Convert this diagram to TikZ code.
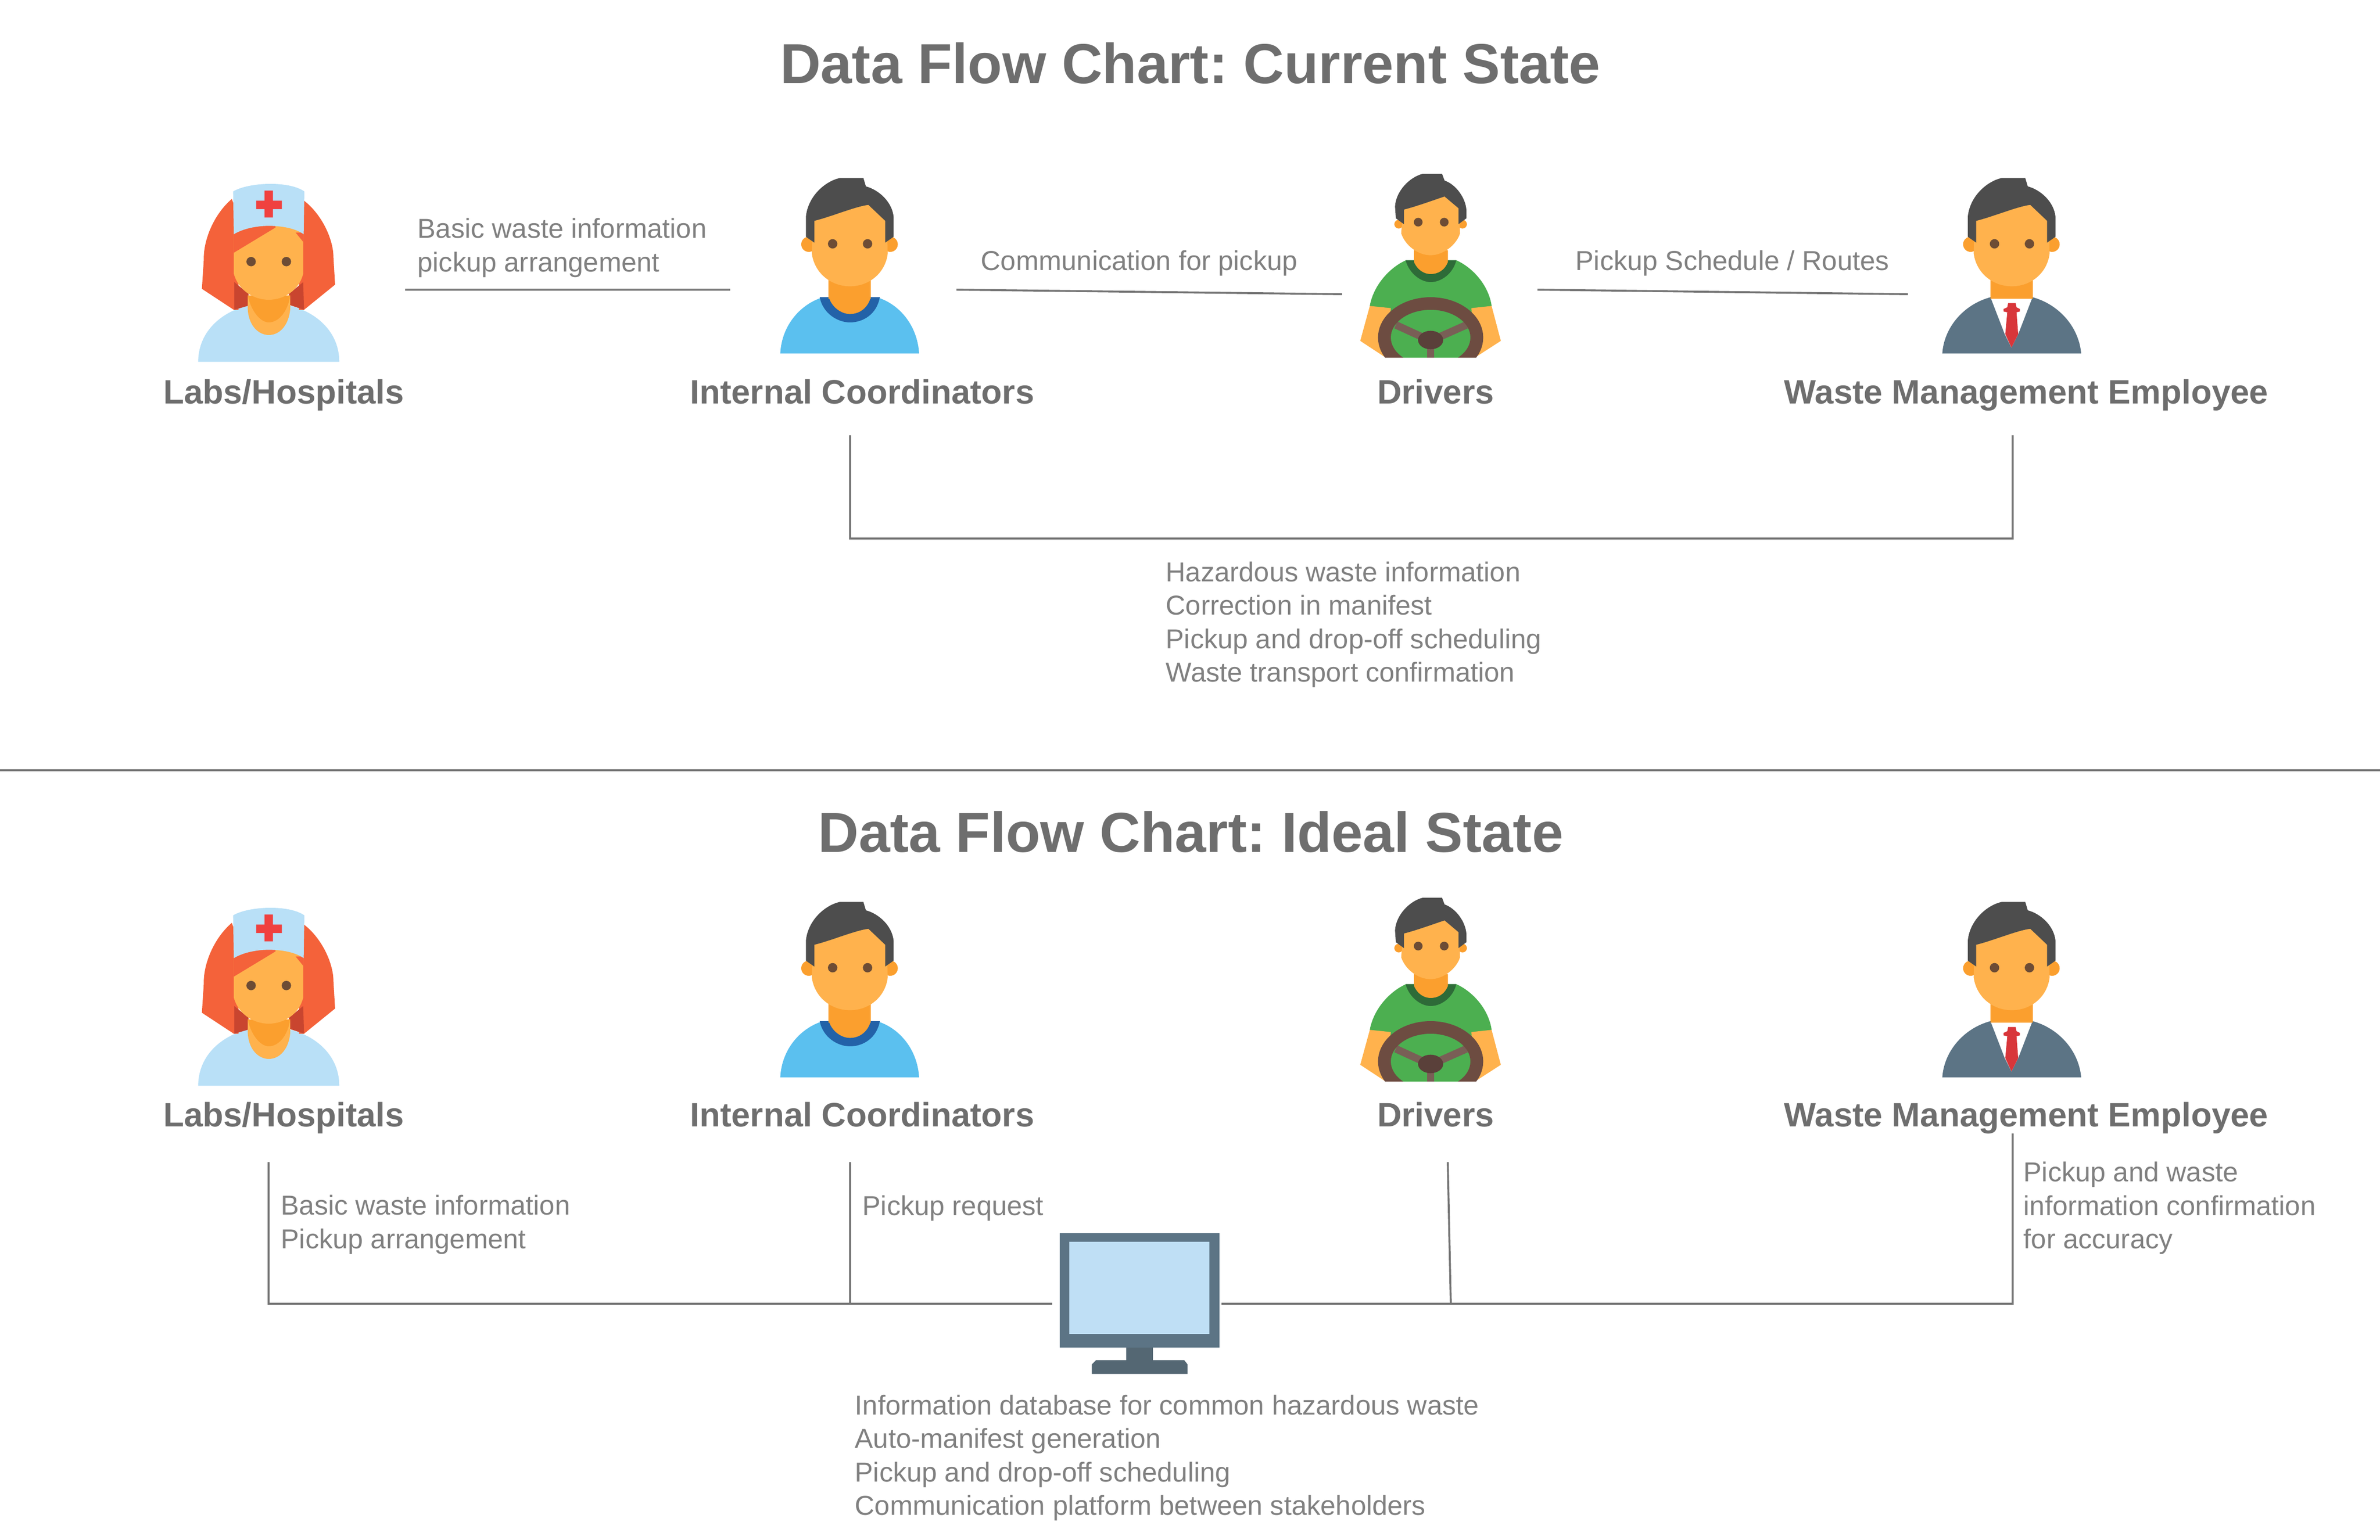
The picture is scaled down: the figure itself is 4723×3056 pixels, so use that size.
\documentclass[tikz,border=0pt]{standalone}
\usepackage{fontspec}
\setmainfont{Liberation Sans}
\frenchspacing
\definecolor{inkgray}{HTML}{6E6E6E}
\definecolor{softgray}{HTML}{808080}
\definecolor{linegray}{HTML}{757575}
\definecolor{skin}{HTML}{FFB24D}
\definecolor{skindark}{HTML}{FB9F2E}
\definecolor{eyebrown}{HTML}{6D4C35}
\definecolor{hairgray}{HTML}{4D4D4D}
\definecolor{hairred}{HTML}{F4623A}
\definecolor{hairdeep}{HTML}{C9452F}
\definecolor{paleblue}{HTML}{B9E0F7}
\definecolor{crossred}{HTML}{F0413F}
\definecolor{shirtblue}{HTML}{5BC0EF}
\definecolor{collarblue}{HTML}{2362A8}
\definecolor{shirtgreen}{HTML}{4CAF50}
\definecolor{collargreen}{HTML}{2E6B38}
\definecolor{wheelbrown}{HTML}{6D4C41}
\definecolor{spokebrown}{HTML}{795F56}
\definecolor{hubbrown}{HTML}{5A403A}
\definecolor{suitgray}{HTML}{5C7485}
\definecolor{tiered}{HTML}{D8363A}
\definecolor{standgray}{HTML}{546773}
\definecolor{screenblue}{HTML}{BFDFF5}
\newcommand{\manhead}{
  \fill[skindark] (403,670) -- (403,790) -- (655,790) -- (655,670) -- cycle;
  \fill[skindark] (285,465) circle (45) (770,465) circle (45);
  \fill[skin] (310,240) -- (640,200) -- (750,300) -- (755,520) .. controls (740,640) and (640,715) .. (530,715)
    .. controls (420,715) and (320,640) .. (303,520) -- cycle;
  \fill[hairgray] (470,70) -- (610,70) -- (625,120) .. controls (700,140) and (780,210) .. (790,300)
    -- (790,420) -- (740,455) -- (740,325) -- (640,230) .. controls (560,240) and (420,300) .. (318,325)
    -- (318,455) -- (268,420) -- (268,300) .. controls (280,180) and (380,90) .. (470,70) -- cycle;
  \fill[eyebrown] (427,462) circle (28) (635,462) circle (28);
}
\tikzset{
  flowtitle/.style={font=\fontsize{31.8}{36}\selectfont\bfseries, text=inkgray, inner sep=0pt},
  rolename/.style={font=\fontsize{19.1}{22}\selectfont\bfseries, text=inkgray, inner sep=0pt, text height=14pt, text depth=4pt},
  flowtext/.style={font=\fontsize{15.45}{18.9}\selectfont, text=softgray, anchor=west, align=left, inner sep=0pt},
  flowline/.style={draw=linegray, line width=1.1pt},
  nursefig/.pic={
    \fill[paleblue] (100,1165) .. controls (100,950) and (300,815) .. (520,815)
      .. controls (740,815) and (940,950) .. (940,1165) -- cycle;
    \fill[hairred] (300,195) .. controls (200,280) and (130,430) .. (133,560) -- (122,730) -- (312,855)
      -- (340,855) -- (340,300) -- cycle;
    \fill[hairred] (730,205) .. controls (840,290) and (905,440) .. (905,540) -- (915,705) -- (730,855)
      -- (700,855) -- (700,300) -- cycle;
    \fill[hairdeep] (315,690) -- (400,760) -- (400,830) -- (315,855) -- cycle;
    \fill[hairdeep] (725,690) -- (640,760) -- (640,825) -- (730,855) -- cycle;
    \fill[skin] (395,770) -- (395,850) .. controls (400,950) and (460,1005) .. (520,1005)
      .. controls (590,1005) and (640,940) .. (648,850) -- (648,770) -- cycle;
    \fill[skindark] (395,770) .. controls (420,880) and (480,930) .. (520,930)
      .. controls (570,930) and (630,880) .. (648,770) -- cycle;
    \fill[skin] (312,340) -- (312,640) .. controls (340,740) and (430,795) .. (520,795)
      .. controls (610,795) and (700,740) .. (725,640) -- (725,340) -- cycle;
    \fill[hairred] (312,340) -- (312,515) -- (560,365) -- (560,340) -- cycle;
    \fill[hairred] (680,395) -- (725,450) -- (725,395) -- cycle;
    \fill[paleblue] (308,150) .. controls (400,95) and (640,85) .. (732,150) -- (728,405)
      .. controls (680,370) and (600,355) .. (520,355) .. controls (440,355) and (360,375) .. (312,405) -- cycle;
    \fill[crossred] (495,145) rectangle (545,305) (445,205) rectangle (598,255);
    \fill[eyebrown] (415,568) circle (28) (625,568) circle (28);
  },
  coordfig/.pic={
    \fill[shirtblue] (115,1115) .. controls (125,940) and (240,825) .. (355,785) -- (705,785)
      .. controls (820,825) and (930,940) .. (942,1115) -- cycle;
    \fill[collarblue] (350,780) .. controls (370,880) and (460,930) .. (530,930)
      .. controls (610,930) and (690,880) .. (708,780) -- cycle;
    \fill[skindark] (403,775) .. controls (420,840) and (480,880) .. (530,880)
      .. controls (590,880) and (640,840) .. (655,775) -- cycle;
    \manhead
  },
  driverfig/.pic={
    \fill[shirtgreen] (175,830) .. controls (200,700) and (300,600) .. (390,560) -- (690,560)
      .. controls (780,600) and (880,700) .. (900,830) -- (800,1140) -- (270,1140) -- cycle;
    \fill[skin] (175,832) -- (300,845) -- (270,1140) -- (118,1040) -- cycle;
    \fill[skin] (900,832) -- (780,845) -- (800,1140) -- (955,1040) -- cycle;
    \fill[collargreen] (388,560) .. controls (410,640) and (480,690) .. (537,690)
      .. controls (600,690) and (670,640) .. (690,560) -- cycle;
    \fill[skindark] (438,500) -- (438,570) .. controls (460,620) and (500,642) .. (537,642)
      .. controls (580,642) and (620,620) .. (640,570) -- (640,500) -- cycle;
    \fill[skindark] (347,345) circle (26) (727,345) circle (26);
    \fill[skin] (375,230) -- (620,160) -- (705,250) -- (712,400) .. controls (690,470) and (610,530) .. (537,530)
      .. controls (460,530) and (385,470) .. (362,400) -- cycle;
    \fill[hairgray] (490,45) -- (605,45) -- (620,85) .. controls (690,110) and (745,190) .. (750,260)
      -- (750,310) -- (703,345) -- (703,250) -- (620,180) .. controls (560,200) and (450,240) .. (378,258)
      -- (378,345) -- (330,310) -- (325,240) .. controls (330,150) and (410,65) .. (490,45) -- cycle;
    \fill[eyebrown] (463,333) circle (26) (618,333) circle (26);
    \begin{scope}
      \clip (100,700) rectangle (980,1140);
      \draw[spokebrown, line width=4.2pt] (537,1040) -- (330,945);
      \draw[spokebrown, line width=4.2pt] (537,1040) -- (750,945);
      \draw[spokebrown, line width=4.2pt] (537,1040) -- (537,1140);
      \fill[wheelbrown, even odd rule] (537,1020) ellipse (313 and 240) (537,1020) ellipse (237 and 165);
      \fill[hubbrown] (537,1035) ellipse (75 and 55);
    \end{scope}
  },
  managerfig/.pic={
    \fill[suitgray] (103,1115) .. controls (115,950) and (240,820) .. (390,780) -- (640,780)
      .. controls (790,820) and (915,950) .. (930,1115) -- cycle;
    \fill[white] (390,780) -- (640,780) -- (555,1000) -- (515,1080) -- (475,1000) -- cycle;
    \fill[tiered] (495,815) -- (540,815) -- (545,840) -- (565,850) -- (565,865) -- (545,870) -- (555,1000)
      -- (515,1080) -- (478,1000) -- (490,870) -- (468,865) -- (468,850) -- (490,840) -- cycle;
    \begin{scope}[xshift=-0.13cm]
      \manhead
    \end{scope}
  },
  monitorfig/.pic={
    \fill[suitgray] (130,85) rectangle (1080,765);
    \fill[screenblue] (185,135) rectangle (1020,685);
    \fill[standgray] (525,765) rectangle (685,850);
    \fill[standgray] (345,840) -- (870,840) -- (890,865) -- (890,922) -- (320,922) -- (320,865) -- cycle;
  }
}
\begin{document}
\begin{tikzpicture}[x=0.01cm,y=-0.01cm]
  \useasboundingbox (0,0) rectangle (4723,3056);
  \pic[scale=.3333] at (360,330) {nursefig};
  \pic[scale=.3333] at (1510,330) {coordfig};
  \pic[scale=.3333] at (2660,330) {driverfig};
  \pic[scale=.3333] at (3820,330) {managerfig};
  \pic[scale=.3333] at (360,1767) {nursefig};
  \pic[scale=.3333] at (1510,1767) {coordfig};
  \pic[scale=.3333] at (2660,1767) {driverfig};
  \pic[scale=.3333] at (3820,1767) {managerfig};
  \pic[scale=.3333] at (2060,2420) {monitorfig};
  \draw
    (2362,126) node[flowtitle] (titleA){Data Flow Chart: Current State}
    (2363,1651) node[flowtitle] (titleB){Data Flow Chart: Ideal State}
    (563,784) node[rolename] (labsA){Labs/Hospitals}
    (1711,784) node[rolename] (coordA){Internal Coordinators}
    (2849,784) node[rolename] (driverA){Drivers}
    (4021,784) node[rolename] (wasteA){Waste Management Employee}
    (563,2219) node[rolename] (labsB){Labs/Hospitals}
    (1711,2219) node[rolename] (coordB){Internal Coordinators}
    (2849,2219) node[rolename] (driverB){Drivers}
    (4021,2219) node[rolename] (wasteB){Waste Management Employee}
    (828,492) node[flowtext] (infoA){Basic waste information\\pickup arrangement}
    (1946,522) node[flowtext] (infoB){Communication for pickup}
    (3126,522) node[flowtext] (infoC){Pickup Schedule / Routes}
    (2313,1240) node[flowtext] (infoD){Hazardous waste information\\Correction in manifest\\Pickup and drop-off scheduling\\Waste transport confirmation}
    (557,2431) node[flowtext] (infoE){Basic waste information\\Pickup arrangement}
    (1711,2398) node[flowtext] (infoF){Pickup request}
    (4015,2398) node[flowtext] (infoG){Pickup and waste\\information confirmation\\for accuracy}
    (1696,2894) node[flowtext] (infoH){Information database for common hazardous waste\\Auto-manifest generation\\Pickup and drop-off scheduling\\Communication platform between stakeholders};
  \coordinate (aL) at (804,575);
  \coordinate (aR) at (1449,575);
  \coordinate (bL) at (1898,575);
  \coordinate (bR) at (2663,584);
  \coordinate (cL) at (3051,575);
  \coordinate (cR) at (3786,584);
  \coordinate (dA) at (1687,864);
  \coordinate (dB) at (1687,1069);
  \coordinate (dC) at (3994,1069);
  \coordinate (dD) at (3994,864);
  \coordinate (sepL) at (0,1529);
  \coordinate (sepR) at (4723,1529);
  \coordinate (eA) at (533,2307);
  \coordinate (eB) at (533,2588);
  \coordinate (monW) at (2088,2588);
  \coordinate (fA) at (1687,2307);
  \coordinate (fB) at (1687,2588);
  \coordinate (monE) at (2424,2588);
  \coordinate (gA) at (3994,2588);
  \coordinate (gB) at (3994,2250);
  \coordinate (hA) at (2873,2307);
  \coordinate (hB) at (2879,2588);
  \begin{scope}[flowline]
    \draw (aL) to (aR);
    \draw (bL) to (bR);
    \draw (cL) to (cR);
    \draw (dA) -- (dB) -- (dC) -- (dD);
    \draw (sepL) to (sepR);
    \draw (eA) -- (eB) -- (monW);
    \draw (fA) to (fB);
    \draw (monE) -- (gA) -- (gB);
    \draw (hA) to (hB);
  \end{scope}
\end{tikzpicture}
\end{document}
